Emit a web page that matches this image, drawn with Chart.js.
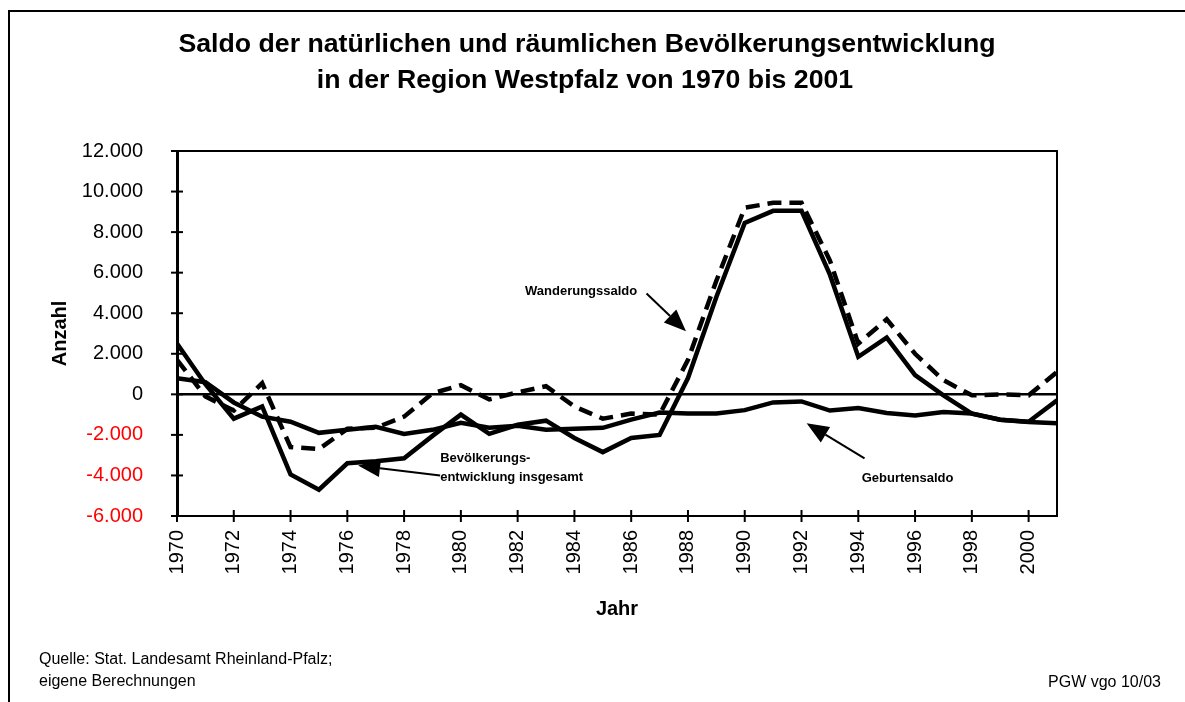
<!DOCTYPE html>
<html>
<head>
<meta charset="utf-8">
<script src="https://cdn.jsdelivr.net/npm/chart.js@4.4.1/dist/chart.umd.min.js"></script>
<style>
  html, body { margin: 0; padding: 0; background: #fff; }
  canvas { display: block; }
</style>
</head>
<body>
<canvas id="myChart" width="1185" height="702"></canvas>
<script>
  // Werte (Personen)
  var years = [1970, 1971, 1972, 1973, 1974, 1975, 1976, 1977, 1978, 1979,
               1980, 1981, 1982, 1983, 1984, 1985, 1986, 1987, 1988, 1989,
               1990, 1991, 1992, 1993, 1994, 1995, 1996, 1997, 1998, 1999,
               2000, 2001];

  var geburtensaldo = [800, 600, -400, -1100, -1350, -1900, -1750, -1600, -1950, -1750,
                       -1400, -1650, -1550, -1750, -1700, -1650, -1250, -900, -950, -950,
                       -780, -400, -350, -800, -680, -920, -1040, -870, -950, -1250,
                       -1370, -1420];

  var wanderungssaldo = [1700, -100, -800, 550, -2600, -2700, -1700, -1650, -1100, 50,
                         450, -250, 100, 400, -600, -1200, -950, -1000, 1700, 5600,
                         9200, 9450, 9450, 6600, 2500, 3700, 2000, 700, -50, 0,
                         -50, 1100];

  var insgesamt = [2500, 500, -1200, -600, -3950, -4700, -3400, -3300, -3150, -2050,
                   -1000, -1950, -1500, -1300, -2150, -2850, -2150, -2000, 800, 4800,
                   8450, 9050, 9050, 5900, 1850, 2800, 950, -50, -950, -1250,
                   -1350, -300];

  var xTicks = [1970, 1972, 1974, 1976, 1978, 1980, 1982, 1984, 1986, 1988,
                1990, 1992, 1994, 1996, 1998, 2000];
  var yTicks = [-6000, -4000, -2000, 0, 2000, 4000, 6000, 8000, 10000, 12000];

  // Pfeil-Beschriftungen, Lage in Jahr / Anzahl
  var noteTexts = [['Wanderungssaldo'], ['Bevölkerungs-', 'entwicklung insgesamt'], ['Geburtensaldo']];
  var noteAt = [[1982.26, 4890], [1979.27, -3360], [1994.12, -4330]];
  var arrowFrom = [[1986.54, 4970], [1979.27, -4000], [1994.22, -3160]];
  var arrowTo = [[1987.93, 3110], [1976.38, -3510], [1992.18, -1430]];

  var FONT = "'Liberation Sans', Arial, Helvetica, sans-serif";

  var fmt = function (v) {
    var s = Math.abs(v).toString().replace(/\B(?=(\d{3})+(?!\d))/g, '.');
    return (v < 0 ? '-' : '') + s;
  };

  var toXY = function (rows) {
    return rows.map(function (v, i) { return { x: years[i], y: v }; });
  };

  var arrow = function (ctx, x1, y1, x2, y2) {
    var a = Math.atan2(y2 - y1, x2 - x1);
    var len = 22, half = 9;
    var bx = x2 - len * Math.cos(a), by = y2 - len * Math.sin(a);
    ctx.beginPath();
    ctx.moveTo(x1, y1);
    ctx.lineTo(bx, by);
    ctx.lineWidth = 2;
    ctx.strokeStyle = '#000';
    ctx.stroke();
    ctx.beginPath();
    ctx.moveTo(x2, y2);
    ctx.lineTo(bx + half * Math.sin(a), by - half * Math.cos(a));
    ctx.lineTo(bx - half * Math.sin(a), by + half * Math.cos(a));
    ctx.closePath();
    ctx.fillStyle = '#000';
    ctx.fill();
  };

  // Rahmen, Nulllinie, Achsenstriche
  var frame = {
    id: 'frame',
    beforeDatasetsDraw: function (chart) {
      var ctx = chart.ctx, a = chart.chartArea;
      var ys = chart.scales.y;
      ctx.save();
      ctx.strokeStyle = '#000';
      ctx.lineWidth = 2.5;
      var y0 = ys.getPixelForValue(0);
      ctx.beginPath();
      ctx.moveTo(a.left, y0);
      ctx.lineTo(a.right, y0);
      ctx.stroke();
      ctx.restore();
    },
    afterDraw: function (chart) {
      var ctx = chart.ctx, a = chart.chartArea;
      var xs = chart.scales.x, ys = chart.scales.y;
      ctx.save();
      ctx.strokeStyle = '#000';

      // aeusserer Rahmen
      ctx.lineWidth = 2;
      ctx.beginPath();
      ctx.moveTo(9, 702);
      ctx.lineTo(9, 11);
      ctx.lineTo(1185, 11);
      ctx.stroke();

      // Diagrammflaeche
      ctx.lineWidth = 2;
      ctx.strokeRect(a.left, a.top, a.right - a.left, a.bottom - a.top);
      ctx.lineWidth = 3;
      ctx.beginPath();
      ctx.moveTo(a.left + 0.5, a.top);
      ctx.lineTo(a.left + 0.5, a.bottom);
      ctx.stroke();

      ctx.lineWidth = 2;
      yTicks.forEach(function (v) {
        var y = ys.getPixelForValue(v);
        ctx.beginPath();
        ctx.moveTo(a.left - 6, y);
        ctx.lineTo(a.left + 6, y);
        ctx.stroke();
      });
      xTicks.forEach(function (v) {
        var x = xs.getPixelForValue(v);
        ctx.beginPath();
        ctx.moveTo(x, a.bottom - 6);
        ctx.lineTo(x, a.bottom + 6);
        ctx.stroke();
      });

      // Titel
      ctx.fillStyle = '#000';
      ctx.textAlign = 'center';
      ctx.textBaseline = 'alphabetic';
      ctx.font = 'bold 26.7px ' + FONT;
      ctx.fillText('Saldo der natürlichen und räumlichen Bevölkerungsentwicklung', 587, 52);
      ctx.fillText('in der Region Westpfalz von 1970 bis 2001', 585, 88);

      // Pfeile mit Text
      ctx.font = 'bold 13px ' + FONT;
      ctx.textAlign = 'left';
      noteTexts.forEach(function (lines, i) {
        var tx = xs.getPixelForValue(noteAt[i][0]);
        var ty = ys.getPixelForValue(noteAt[i][1]);
        lines.forEach(function (t, k) {
          ctx.fillText(t, tx, ty + k * 19);
        });
        arrow(ctx,
          xs.getPixelForValue(arrowFrom[i][0]), ys.getPixelForValue(arrowFrom[i][1]),
          xs.getPixelForValue(arrowTo[i][0]), ys.getPixelForValue(arrowTo[i][1]));
      });

      // Quelle
      ctx.font = '16px ' + FONT;
      ctx.fillText('Quelle: Stat. Landesamt Rheinland-Pfalz;', 39, 664);
      ctx.fillText('eigene Berechnungen', 39, 686);
      ctx.textAlign = 'right';
      ctx.fillText('PGW vgo 10/03', 1161, 687);
      ctx.restore();
    }
  };

  var ctx = document.getElementById('myChart').getContext('2d');
  var myChart = new Chart(ctx, {
    type: 'line',
    data: {
      datasets: [{
        label: 'Geburtensaldo',
        data: toXY(geburtensaldo),
        borderColor: '#000',
        borderWidth: 4.5
      }, {
        label: 'Wanderungssaldo',
        data: toXY(wanderungssaldo),
        borderColor: '#000',
        borderWidth: 4.5,
        borderDash: [14, 8]
      }, {
        label: 'Bevölkerungsentwicklung insgesamt',
        data: toXY(insgesamt),
        borderColor: '#000',
        borderWidth: 4.5
      }]
    },
    options: {
      responsive: false,
      animation: false,
      devicePixelRatio: 1,
      layout: { padding: { top: 151, right: 128, bottom: 0, left: 0 } },
      elements: {
        point: { radius: 0 },
        line: { tension: 0, borderCapStyle: 'butt', borderJoinStyle: 'miter', fill: false }
      },
      plugins: {
        legend: { display: false },
        tooltip: { enabled: false },
        title: { display: false }
      },
      scales: {
        x: {
          type: 'linear',
          min: 1970,
          max: 2001,
          afterBuildTicks: function (axis) {
            axis.ticks = xTicks.map(function (v) { return { value: v }; });
          },
          afterFit: function (axis) { axis.height = 186; },
          grid: { display: false, drawTicks: false },
          border: { display: false },
          ticks: {
            autoSkip: false,
            minRotation: 90,
            maxRotation: 90,
            padding: 14,
            color: '#000',
            font: { family: FONT, size: 20 },
            callback: function (v) { return String(v); }
          },
          title: {
            display: true,
            text: 'Jahr',
            color: '#000',
            font: { family: FONT, size: 20, weight: 'bold' },
            padding: { top: 0, bottom: 81 }
          }
        },
        y: {
          min: -6000,
          max: 12000,
          afterBuildTicks: function (axis) {
            axis.ticks = yTicks.map(function (v) { return { value: v }; });
          },
          afterFit: function (axis) { axis.width = 177; },
          grid: { display: false, drawTicks: false },
          border: { display: false },
          ticks: {
            padding: 34,
            font: { family: FONT, size: 20 },
            color: function (c) { return c.tick && c.tick.value < 0 ? '#ff0000' : '#000'; },
            callback: function (v) { return fmt(v); }
          },
          title: {
            display: true,
            text: 'Anzahl',
            color: '#000',
            font: { family: FONT, size: 20, weight: 'bold' },
            padding: { top: 48, bottom: 0 }
          }
        }
      }
    },
    plugins: [frame]
  });
</script>
</body>
</html>
